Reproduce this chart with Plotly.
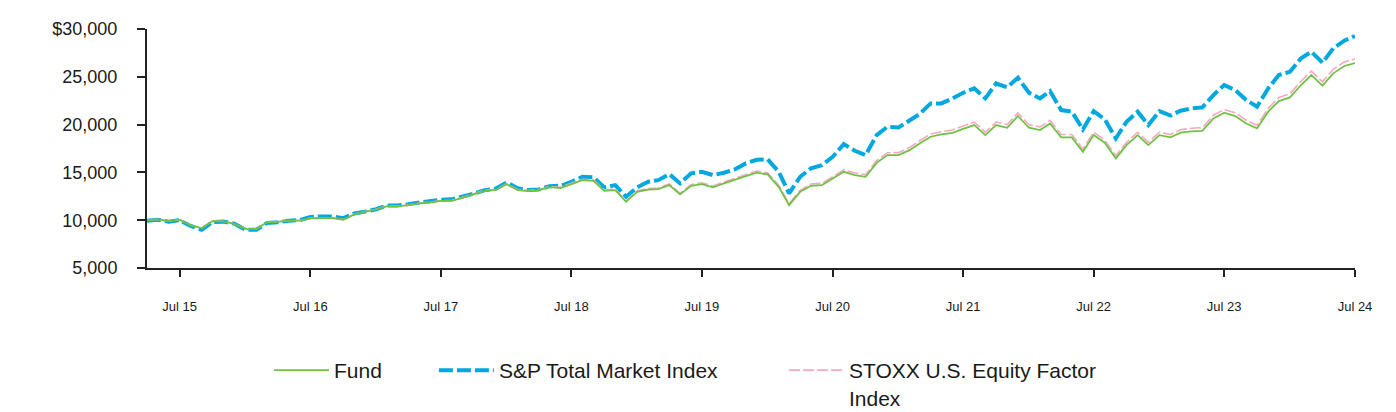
import pandas as pd
import plotly.graph_objects as go

months = pd.date_range("2015-04-01", "2024-07-01", freq="MS")

fund = [
    10000, 10080, 9900, 10050, 9450, 9170, 9900, 9880, 9620,
    9100, 9080, 9780, 9830, 9950, 9950, 10200, 10230, 10230, 10050, 10600, 10870,
    11120, 11470, 11440, 11570, 11750, 11850, 12020, 12030, 12380, 12720, 13070, 13140,
    13770, 13140, 13040, 13140, 13450, 13350, 13770, 14190, 14120, 13070, 13140, 11920,
    12970, 13210, 13250, 13670, 12700, 13600, 13770, 13430, 13850, 14190, 14610, 14980,
    14790, 13490, 11570, 12970, 13600, 13670, 14370, 15060, 14720, 14540, 16000, 16810,
    16810, 17330, 18030, 18730, 18970, 19140, 19550, 19950, 18900, 19950, 19670, 20900,
    19670, 19430, 20120, 18660, 18660, 17150, 18900, 18100, 16460, 17850, 18900, 17850,
    18900, 18660, 19150, 19300, 19350, 20650, 21240, 20890, 20120, 19600, 21350, 22460,
    22850, 24140, 25180, 24070, 25360, 26130, 26440,
]

sp_total = [
    9950, 10050, 9850, 10000, 9400, 9000, 9800, 9850, 9650,
    9000, 9000, 9700, 9780, 9950, 10000, 10330, 10400, 10400, 10220, 10700, 10900,
    11150, 11550, 11550, 11680, 11850, 11950, 12150, 12180, 12450, 12780, 13150, 13280,
    13950, 13350, 13150, 13220, 13560, 13600, 14020, 14540, 14500, 13430, 13670, 12450,
    13430, 14020, 14190, 14820, 13850, 14900, 15060, 14720, 14960, 15310, 15940, 16320,
    16360, 15070, 12800, 14540, 15420, 15760, 16630, 17960, 17260, 16810, 18900, 19770,
    19700, 20470, 21100, 22220, 22220, 22740, 23330, 23800, 22750, 24300, 23900, 24900,
    23330, 22740, 23500, 21520, 21350, 19500, 21400, 20550, 18560, 20300, 21350, 19950,
    21400, 20950, 21450, 21700, 21800, 23090, 24140, 23610, 22570, 21870, 23790, 25180,
    25530, 26930, 27630, 26470, 27980, 28780, 29270,
]

stoxx = [
    10000, 10090, 9910, 10060, 9460, 9180, 9910, 9890, 9630,
    9110, 9090, 9790, 9840, 9960, 9970, 10220, 10250, 10250, 10070, 10630, 10900,
    11150, 11500, 11470, 11600, 11790, 11890, 12060, 12080, 12430, 12780, 13130, 13210,
    13830, 13210, 13110, 13220, 13530, 13440, 13860, 14290, 14220, 13170, 13250, 12020,
    13080, 13330, 13370, 13800, 12820, 13730, 13910, 13570, 14000, 14340, 14770, 15150,
    14960, 13650, 11720, 13130, 13780, 13860, 14570, 15270, 14930, 14750, 16230, 17060,
    17070, 17600, 18310, 19020, 19260, 19430, 19850, 20260, 19200, 20270, 19990, 21230,
    19990, 19750, 20440, 18960, 18960, 17430, 19200, 18390, 16730, 18140, 19200, 18140,
    19200, 18960, 19460, 19620, 19670, 20980, 21580, 21230, 20450, 19920, 21700, 22830,
    23230, 24540, 25600, 24470, 25780, 26560, 26870,
]

y_tickvals = [5000, 10000, 15000, 20000, 25000, 30000]
y_ticktext = ["5,000", "10,000", "15,000", "20,000", "25,000", "$30,000"]

FONT = "Liberation Sans, Arial, sans-serif"
TXT = "#1a1a1a"

fig = go.Figure()
fig.add_trace(go.Scatter(
    x=months, y=sp_total, mode="lines", name="S&P Total Market Index",
    line=dict(color="#00A8E0", width=4, dash="14px,4px"), legend="legend2",
))
fig.add_trace(go.Scatter(
    x=months, y=stoxx, mode="lines", name="STOXX U.S. Equity Factor<br>Index",
    line=dict(color="#F7A7C1", width=1.6, dash="11px,3px"), legend="legend3",
))
fig.add_trace(go.Scatter(
    x=months, y=fund, mode="lines", name="Fund",
    line=dict(color="#70C244", width=1.8), legend="legend",
))

def leg(xp):
    return dict(
        orientation="v", x=xp, xanchor="left",
        yref="container", y=0.1535, yanchor="top",
        font=dict(size=21, family=FONT, color=TXT),
        valign="top", itemwidth=55, bgcolor="rgba(0,0,0,0)",
    )

fig.update_layout(
    width=1388, height=404,
    margin=dict(l=139, r=41, t=21, b=144),
    paper_bgcolor="white", plot_bgcolor="white",
    font=dict(family=FONT, color=TXT),
    showlegend=True,
    legend=leg(0.1010),
    legend2=leg(0.2375),
    legend3=leg(0.5273),
    hovermode=False,
)
fig.update_xaxes(
    type="date", range=[months[0], months[-1]],
    tickformat="%b %y", dtick="M12", tick0="2015-07-01",
    showline=True, linecolor="#222", linewidth=2,
    ticks="outside", ticklen=7, tickcolor="#222", tickwidth=2,
    showgrid=False, zeroline=False, automargin=False,
    tickfont=dict(size=13, family=FONT, color=TXT),
    ticklabelstandoff=18,
)
fig.update_yaxes(
    range=[5000, 30000], tickvals=y_tickvals, ticktext=y_ticktext,
    showline=True, linecolor="#222", linewidth=2,
    ticks="outside", ticklen=8, tickcolor="#222", tickwidth=2,
    showgrid=False, zeroline=False, automargin=False,
    tickfont=dict(size=18, family=FONT, color=TXT),
    ticklabelstandoff=16,
)

fig.write_html("out.html")
